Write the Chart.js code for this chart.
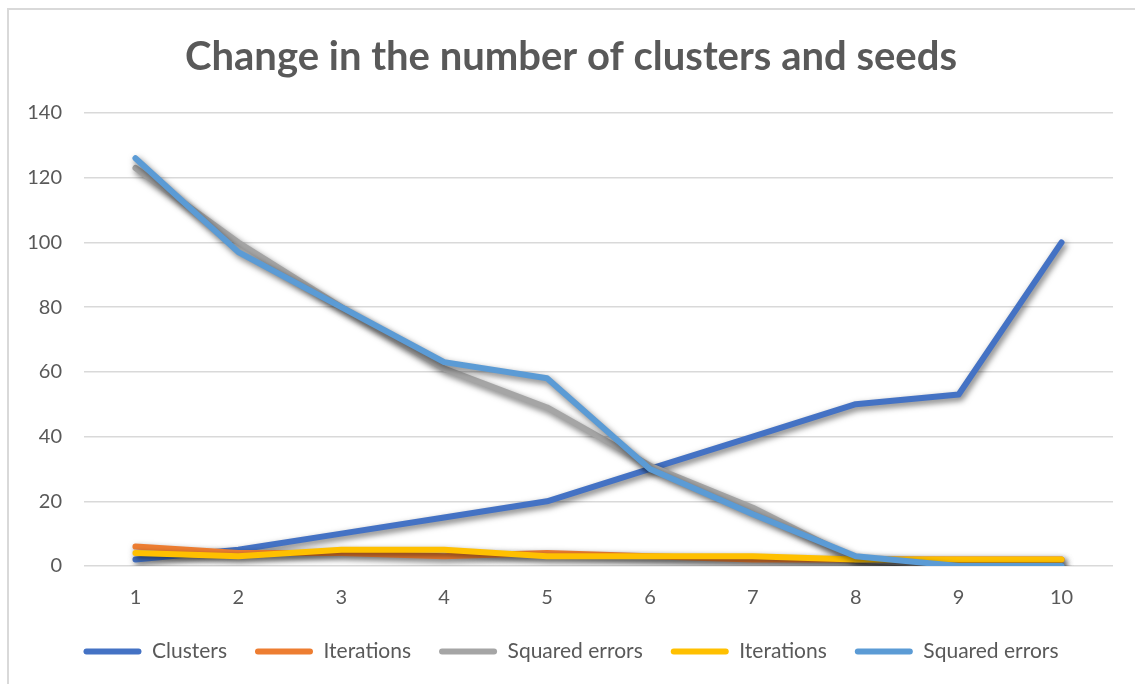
<!DOCTYPE html>
<html>
<head>
<meta charset="utf-8">
<script src="https://cdn.jsdelivr.net/npm/chart.js@4/dist/chart.umd.min.js"></script>
<style>
  html, body { margin: 0; padding: 0; background: #fff; }
  #wrap { position: absolute; left: 0; top: 0; width: 1135px; height: 684px; }
</style>
</head>
<body>
<div id="wrap"><canvas id="c" width="1135" height="684"></canvas></div>
<script>
const categories = ["1","2","3","4","5","6","7","8","9","10"];
const clusters = [2, 5, 10, 15, 20, 30, 40, 50, 53, 100];
const iterationsA = [6, 4, 4, 3, 4, 3, 2, 2, 2, 2];
const squaredErrorsA = [123, 100, 80, 61, 49, 31, 18, 2, 0, 0];
const iterationsB = [4, 3, 5, 5, 3, 3, 3, 2, 2, 2];
const squaredErrorsB = [126, 97, 80, 63, 58, 30, 16, 3, 0, 0];
const seriesNames = ["Clusters", "Iterations", "Squared errors", "Iterations", "Squared errors"];
const seriesColors = ["#4472C4", "#ED7D31", "#A5A5A5", "#FFC000", "#5B9BD5"];
const yTicks = [0, 20, 40, 60, 80, 100, 120, 140];

const seriesData = [clusters, iterationsA, squaredErrorsA, iterationsB, squaredErrorsB];
const FONT = "Lato, 'Open Sans', sans-serif";
const TXT = "#595959";

const frame = {
  id: 'frame',
  beforeDraw(chart) {
    const ctx = chart.ctx;
    ctx.save();
    ctx.fillStyle = '#fff';
    ctx.fillRect(0, 0, chart.width, chart.height);
    ctx.strokeStyle = '#d9d9d9';
    ctx.lineWidth = 2;
    ctx.beginPath();
    ctx.moveTo(8, chart.height + 5);
    ctx.lineTo(8, 9);
    ctx.lineTo(chart.width + 5, 9);
    ctx.stroke();
    ctx.restore();
  }
};
const shadow = {
  id: 'shadow',
  beforeDatasetDraw(chart) {
    const ctx = chart.ctx;
    ctx.save();
    ctx.shadowColor = 'rgba(0,0,0,0.55)';
    ctx.shadowBlur = 6;
    ctx.shadowOffsetX = 2;
    ctx.shadowOffsetY = 3;
  },
  afterDatasetDraw(chart) {
    chart.ctx.restore();
  }
};

new Chart(document.getElementById('c'), {
  type: 'line',
  data: {
    labels: categories,
    datasets: seriesData.map((d, i) => ({
      label: seriesNames[i],
      data: d,
      borderColor: seriesColors[i],
      backgroundColor: seriesColors[i],
      borderWidth: 6,
      pointRadius: 0,
      pointHoverRadius: 0,
      tension: 0,
      borderCapStyle: 'round',
      borderJoinStyle: 'round',
      fill: false,
      order: seriesData.length - i
    }))
  },
  options: {
    responsive: false,
    animation: false,
    events: [],
    layout: { padding: { left: 29, right: 22, top: 8, bottom: 12 } },
    plugins: {
      title: {
        display: true,
        text: "Change in the number of clusters and seeds",
        color: TXT,
        font: { family: FONT, size: 40, weight: 'bold' },
        padding: { top: 25, bottom: 32 }
      },
      legend: {
        position: 'bottom',
        labels: {
          color: TXT,
          font: { family: FONT, size: 21 },
          boxWidth: 58,
          boxHeight: 6,
          padding: 28,
          sort: (a, b) => a.datasetIndex - b.datasetIndex,
          generateLabels(chart) {
            return chart.data.datasets.map((ds, i) => ({
              text: ds.label,
              fillStyle: ds.borderColor,
              strokeStyle: ds.borderColor,
              lineWidth: 0,
              borderRadius: 3,
              datasetIndex: i,
              fontColor: TXT,
              hidden: false
            }));
          }
        }
      },
      tooltip: { enabled: false }
    },
    scales: {
      x: {
        offset: true,
        grid: { display: false, drawTicks: false },
        border: { display: false },
        ticks: { color: TXT, font: { family: FONT, size: 20 }, padding: 20 },
        afterFit(s) { s.height = 47; }
      },
      y: {
        min: 0,
        max: 140,
        afterBuildTicks(s) { s.ticks = yTicks.map(v => ({ value: v })); },
        grid: { color: '#d9d9d9', lineWidth: 1.5, drawTicks: false },
        border: { display: false },
        ticks: { color: TXT, font: { family: FONT, size: 20 }, padding: 22 },
        afterFit(s) { s.width = 55; }
      }
    }
  },
  plugins: [frame, shadow]
});
</script>
</body>
</html>
